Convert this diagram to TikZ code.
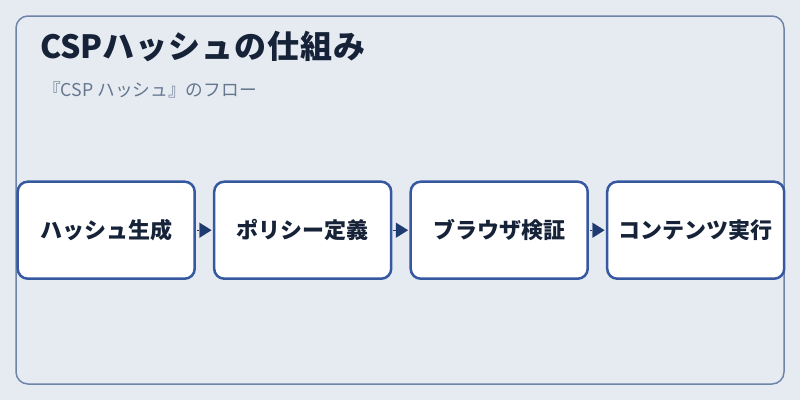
\documentclass[tikz,border=0pt]{standalone}
\usepackage{fontspec}
\setmainfont{Noto Sans CJK JP}
\newfontfamily\titlefont{Noto Sans CJK JP}[LetterSpace=3]
\usetikzlibrary{arrows.meta, positioning}

\definecolor{pagebg}{HTML}{E6EBF1}
\definecolor{framecol}{HTML}{6E84AA}
\definecolor{boxcol}{HTML}{3558A0}
\definecolor{tipcol}{HTML}{1E3A6E}
\definecolor{titlecol}{HTML}{152238}
\definecolor{subcol}{HTML}{66768F}

\begin{document}
\begin{tikzpicture}[x=1pt,y=-1pt,node distance=17pt,
  step box/.style={rectangle,rounded corners=10pt,draw=boxcol,line width=2.5pt,fill=white,
    minimum width=177pt,minimum height=97pt,inner sep=0pt,
    font=\fontsize{22}{25}\selectfont\bfseries,text=titlecol},
  flow/.style={-{Triangle[length=12pt,width=15pt]},tipcol,line width=0.1pt,
    shorten <=1pt,shorten >=1.5pt}]
  % background and frame
  \fill[pagebg] (0,0) rectangle (800,400);
  \draw[framecol,line width=1.5pt,rounded corners=12pt] (16,16) rectangle (784,384);
  % headings
  \node[anchor=base west,inner sep=0pt,text=titlecol,font=\fontsize{32}{36}\selectfont\bfseries]
    (title) at (40,58) {CSP{\titlefont ハッシュの仕組み}};
  \node[anchor=base west,inner sep=0pt,text=subcol,font=\fontsize{17.7}{21}\selectfont]
    (sub) at (43,96) {『CSP ハッシュ』のフロー};
  % steps
  \node[step box] (1) at (106.2,230.2) {ハッシュ生成};
  \node[step box] (2) [right=of 1] {ポリシー定義};
  \node[step box] (3) [right=of 2] {ブラウザ検証};
  \node[step box] (4) [right=of 3] {コンテンツ実行};
  \path[flow]
    (1) edge (2)
    (2) edge (3)
    (3) edge (4);
\end{tikzpicture}
\end{document}
